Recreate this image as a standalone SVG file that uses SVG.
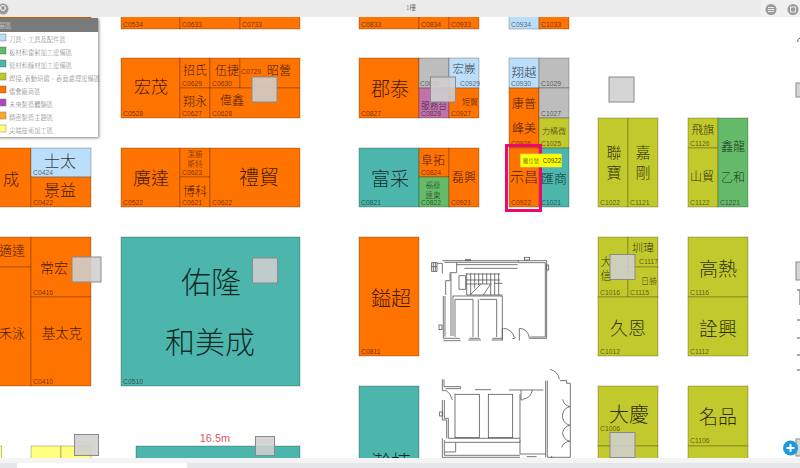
<svg xmlns="http://www.w3.org/2000/svg" width="800" height="468" viewBox="0 0 800 468">
<defs>
<filter id="sh" x="-10%" y="-10%" width="120%" height="120%"><feDropShadow dx="1" dy="1" stdDeviation="1.5" flood-color="#000" flood-opacity=".5"/></filter>
</defs>
<style>
text{font-family:"Noto Sans CJK TC","Liberation Sans",sans-serif;font-weight:300;fill:#000;fill-opacity:.78;text-anchor:middle;dominant-baseline:central}
text.c{font-family:"Liberation Sans",sans-serif;font-weight:400;font-size:6.8px;text-anchor:start;dominant-baseline:auto;fill-opacity:.58}
rect.o,rect.t,rect.v,rect.b,rect.g,rect.y,rect.a,rect.p{stroke:#000;stroke-opacity:.3;stroke-width:.8}
.o{fill:#ff7300}.t{fill:#4db6ac}.v{fill:#c2c92c}.b{fill:#bbdefb}.g{fill:#66bb6a}.y{fill:#ffff80}.a{fill:#bdbdbd}.p{fill:#c272ab}
rect.s{fill:#cfcfcf;fill-opacity:.88;stroke:#8a8a8a;stroke-width:1}
.plan{fill:none;stroke:#555;stroke-width:2.4}
.leg{font-size:6.3px;text-anchor:start;fill-opacity:.6}
</style>
<rect width="800" height="468" fill="#fff"/>
<g id="top-row">
<rect class="o" x="0" y="12" width="91" height="6"/>
<g id="C0534"><rect class="o" x="121" y="10" width="59" height="19"/><text class="c" x="123" y="26.5">C0534</text></g>
<g id="C0633"><rect class="o" x="180" y="10" width="60" height="19"/><text class="c" x="182" y="26.5">C0633</text></g>
<g id="C0733"><rect class="o" x="240" y="10" width="60" height="19"/><text class="c" x="242" y="26.5">C0733</text></g>
<g id="C0833"><rect class="o" x="359" y="10" width="60" height="19"/><text class="c" x="361" y="26.5">C0833</text></g>
<g id="C0834"><rect class="o" x="419" y="10" width="30" height="19"/><text class="c" x="421" y="26.5">C0834</text></g>
<g id="C0933"><rect class="o" x="449" y="10" width="30" height="19"/><text class="c" x="451" y="26.5">C0933</text></g>
<g id="C0934"><rect class="b" x="509" y="10" width="30" height="19"/><text class="c" x="511" y="26.5">C0934</text></g>
<g id="C1033"><rect class="o" x="539" y="10" width="30" height="19"/><text class="c" x="541" y="26.5">C1033</text></g>
</g>
<g id="C0528"><rect class="o" x="121" y="58" width="59" height="60"/><text x="151" y="85" font-size="17">宏茂</text><text class="c" x="123" y="115.5">C0528</text></g>
<g id="C0629"><rect class="o" x="180" y="58" width="30" height="30"/><text x="195" y="69" font-size="12">招氏</text><text class="c" x="182" y="85.5">C0629</text></g>
<g id="C0630"><rect class="o" x="210" y="58" width="30" height="30"/><text x="227" y="69.500" font-size="12">伍捷</text><text class="c" x="212" y="85.5">C0630</text></g>
<g id="C0729"><rect class="o" x="240" y="58" width="60" height="30"/><text x="279" y="69" font-size="12">昭營</text><text class="c" x="241" y="74">C0729</text></g>
<g id="C0627"><rect class="o" x="180" y="88" width="30" height="30"/><text x="195" y="100" font-size="12">翔永</text><text class="c" x="182" y="115.5">C0627</text></g>
<g id="C0628"><rect class="o" x="210" y="88" width="90" height="30"/><text x="232" y="99" font-size="12">偉鑫</text><text class="c" x="212" y="115.5">C0628</text></g>
<g id="C0522"><rect class="o" x="121" y="148" width="59" height="59"/><text x="151" y="177" font-size="18">廣達</text><text class="c" x="123" y="204.500">C0522</text></g>
<g id="C0623"><rect class="o" x="180" y="148" width="30" height="29"/><text x="195" y="153" font-size="7.500">潔勝</text><text x="195" y="163" font-size="7.500">斯特</text><text class="c" x="182" y="175">C0623</text></g>
<g id="C0621"><rect class="o" x="180" y="177" width="30" height="30"/><text x="195" y="190" font-size="12">博科</text><text class="c" x="182" y="204.500">C0621</text></g>
<g id="C0622"><rect class="o" x="210" y="148" width="90" height="59"/><text x="259" y="176" font-size="20">禮貿</text><text class="c" x="212" y="204.500">C0622</text></g>
<g id="cheng"><rect class="o" x="-2" y="148" width="33" height="59"/><text x="11" y="178" font-size="16">成</text></g>
<g id="C0424"><rect class="b" x="31" y="148" width="60" height="29"/><text x="60" y="160" font-size="16">士太</text><text class="c" x="33" y="175">C0424</text></g>
<g id="C0422"><rect class="o" x="31" y="177" width="60" height="30"/><text x="60" y="189" font-size="16">景益</text><text class="c" x="33" y="204.500">C0422</text></g>
<g id="C0827"><rect class="o" x="359" y="58" width="60" height="60"/><text x="390" y="87" font-size="19">郡泰</text><text class="c" x="361" y="115.5">C0827</text></g>
<g id="C0830"><rect class="a" x="419" y="58" width="30" height="30"/><text class="c" x="420" y="86">C0830</text></g>
<g id="C0929"><rect class="b" x="449" y="58" width="30" height="30"/><text x="464" y="68" font-size="11.500">宏嶡</text><text class="c" x="460" y="85.5">C0929</text></g>
<g id="C0828"><rect class="p" x="419" y="88" width="30" height="30"/><text x="434" y="105" font-size="8.700">服務台</text><text class="c" x="421" y="115.5">C0828</text></g>
<g id="C0927"><rect class="o" x="449" y="88" width="30" height="30"/><text x="470" y="101" font-size="8">短翼</text><text class="c" x="451" y="115.5">C0927</text></g>
<g id="C0821"><rect class="t" x="359" y="148" width="60" height="59"/><text x="390" y="177" font-size="19">富采</text><text class="c" x="361" y="204.500">C0821</text></g>
<g id="C0824"><rect class="o" x="419" y="148" width="30" height="29"/><text x="433" y="159" font-size="12">阜拓</text><text class="c" x="421" y="175">C0824</text></g>
<g id="C0822"><rect class="g" x="419" y="177" width="30" height="30"/><text x="433" y="184" font-size="7.500">福祿</text><text x="433" y="194" font-size="7.500">達東</text><text class="c" x="421" y="204.500">C0822</text></g>
<g id="C0921"><rect class="o" x="449" y="148" width="30" height="59"/><text x="464" y="176" font-size="12">磊興</text><text class="c" x="451" y="204.500">C0921</text></g>
<g id="C0930"><rect class="b" x="509" y="58" width="30" height="30"/><text x="524" y="71" font-size="12.500">翔越</text><text class="c" x="511" y="85.5">C0930</text></g>
<g id="C1029"><rect class="a" x="539" y="58" width="30" height="30"/><text class="c" x="541" y="85.5">C1029</text></g>
<g id="C0926"><rect class="o" x="509" y="88" width="30" height="60"/><text x="524" y="102" font-size="12">康普</text><text x="524" y="127" font-size="12">峰美</text><text class="c" x="511" y="145.500">C0926</text></g>
<g id="C1027"><rect class="a" x="539" y="88" width="30" height="30"/><text class="c" x="541" y="115.5">C1027</text></g>
<g id="C1025"><rect class="v" x="539" y="118" width="30" height="30"/><text x="554" y="130" font-size="8">力構微</text><text class="c" x="541" y="145.500">C1025</text></g>
<g id="C1021"><rect class="t" x="539" y="148" width="30" height="59"/><text x="554" y="177" font-size="13">匯商</text><text class="c" x="541" y="204.500">C1021</text></g>
<g id="C0922"><rect class="o" x="509" y="148" width="30" height="59"/><text x="524" y="176" font-size="14">示昌</text><text class="c" x="511" y="204.500">C0922</text></g>
<g id="C1022"><rect class="v" x="598" y="118" width="30" height="89"/><text x="614" y="151" font-size="15">聯</text><text x="614" y="171" font-size="15">寶</text><text class="c" x="600" y="204.500">C1022</text></g>
<g id="C1121"><rect class="v" x="628" y="118" width="30" height="89"/><text x="643" y="151" font-size="15">嘉</text><text x="643" y="171" font-size="15">剛</text><text class="c" x="630" y="204.500">C1121</text></g>
<g id="C1126"><rect class="v" x="688" y="118" width="30" height="30"/><text x="703" y="129" font-size="11.500">飛旗</text><text class="c" x="690" y="145.500">C1126</text></g>
<g id="C1122"><rect class="v" x="688" y="148" width="30" height="59"/><text x="702" y="175" font-size="12">山貿</text><text class="c" x="690" y="204.500">C1122</text></g>
<g id="C1221"><rect class="g" x="718" y="118" width="30" height="89"/><text x="733" y="145" font-size="12">鑫龍</text><text x="733" y="176" font-size="12">乙和</text><text class="c" x="720" y="204.500">C1221</text></g>
<g id="shida"><rect class="o" x="-2" y="237" width="33" height="30"/><text x="12" y="249" font-size="13">適達</text></g>
<g id="leyong"><rect class="o" x="-2" y="267" width="33" height="119"/><text x="12" y="332" font-size="13">禾泳</text></g>
<g id="C0416"><rect class="o" x="31" y="237" width="60" height="60"/><text x="54" y="267" font-size="14">常宏</text><text class="c" x="33" y="294.500">C0416</text></g>
<g id="C0410"><rect class="o" x="31" y="297" width="60" height="89"/><text x="62" y="332" font-size="13.500">基太克</text><text class="c" x="33" y="383.500">C0410</text></g>
<g id="C0510"><rect class="t" x="121" y="237" width="179" height="149"/><text x="211" y="280" font-size="30">佑隆</text><text x="210" y="340" font-size="30">和美成</text><text class="c" x="123" y="383.500">C0510</text></g>
<g id="C0811"><rect class="o" x="359" y="237" width="60" height="119"/><text x="391" y="297" font-size="20">鎰超</text><text class="c" x="361" y="353.500">C0811</text></g>
<g id="hanlian"><rect class="t" x="359" y="386" width="60" height="85"/><text x="391" y="461" font-size="20">瀚棟</text></g>
<g id="C1016"><rect class="v" x="598" y="237" width="30" height="60"/><text x="606" y="261" font-size="11">大</text><text x="606" y="275" font-size="11">信</text><text class="c" x="600" y="294.500">C1016</text></g>
<g id="C1117"><rect class="v" x="628" y="237" width="30" height="30"/><text x="643" y="247" font-size="11">圳瑋</text><text class="c" x="639" y="263.500">C1117</text></g>
<g id="C1115"><rect class="v" x="628" y="267" width="30" height="30"/><text x="649" y="280" font-size="8">日勝</text><text class="c" x="630" y="294.500">C1115</text></g>
<g id="C1012"><rect class="v" x="598" y="297" width="60" height="59"/><text x="628" y="327" font-size="18">久恩</text><text class="c" x="600" y="353.500">C1012</text></g>
<g id="C1116"><rect class="v" x="688" y="237" width="60" height="60"/><text x="718" y="267" font-size="19">高熱</text><text class="c" x="690" y="294.500">C1116</text></g>
<g id="C1112"><rect class="v" x="688" y="297" width="60" height="59"/><text x="718" y="327" font-size="19">詮興</text><text class="c" x="690" y="353.500">C1112</text></g>
<g id="C1006"><rect class="v" x="598" y="386" width="60" height="60"/><text x="629" y="413" font-size="20">大慶</text><text class="c" x="600" y="431">C1006</text></g>
<g id="C1006b"><rect class="v" x="598" y="446" width="60" height="25"/></g>
<g id="C1106"><rect class="v" x="688" y="386" width="60" height="60"/><text x="718" y="415" font-size="19">名品</text><text class="c" x="690" y="443">C1106</text></g>
<g id="C1106b"><rect class="v" x="688" y="446" width="60" height="25"/></g>
<g id="bottom-row">
<rect class="y" x="-2" y="446" width="3.500" height="25"/>
<rect class="y" x="31" y="446" width="30" height="25"/><rect class="y" x="61" y="446" width="30" height="25"/>
<text x="47" y="464" font-size="14">壽</text>
<rect class="t" x="136" y="446" width="164" height="25"/>
<text x="215" y="438" font-size="11" style="fill:#d9404f;fill-opacity:.9;font-weight:400;font-family:'Liberation Sans',sans-serif">16.5m</text>
</g>
<g id="pillars">
<rect class="s" x="252" y="77" width="25" height="25"/>
<rect class="s" x="430.500" y="77" width="25" height="25"/>
<rect class="s" x="609" y="77" width="25" height="25"/>
<rect class="s" x="72" y="257" width="29" height="25"/>
<rect class="s" x="252.500" y="258" width="25" height="25"/>
<rect class="s" x="610" y="254.500" width="25" height="25"/>
<rect class="s" x="610" y="432.500" width="25" height="25"/>
<rect class="s" x="74.500" y="434.500" width="24" height="21"/>
<rect class="s" x="255.500" y="436.500" width="19" height="19"/>
<rect class="s" x="796" y="83" width="8" height="14"/>
<rect class="s" x="796" y="262" width="8" height="18"/>
<rect class="s" x="796" y="439" width="8" height="17"/>
</g>
<g id="floor-plan" class="plan" transform="translate(425 250) scale(.3333)">
<path d="M55 138V265H105M133 265H165M202 265H232V138H83M60 138V260M78 70V258M84 138V258M55 272H107M130 270H168M200 270H232M232 235V272"/>
<path d="M36 40H52V70M52 32H365V265H313M58 37H278M95 37V68H75V92H62V135M280 32V38M278 44H95M278 55H118M280 38H361V261H316"/>
<rect x="122" y="28" width="14" height="4"/><rect x="298" y="22" width="16" height="8"/><rect x="365" y="45" width="6" height="15"/><rect x="42" y="225" width="9" height="14"/>
<rect x="20" y="38" width="16" height="26"/><path d="M25 38V64M31 38V64M20 50H36"/>
<path d="M102 77H122V118H102ZM125 70V135M137 70V135M149 70V115M161 70V105M173 70V102M185 70V102M197 70V135M209 70V135M221 70V135M225 72H122M225 90H122M200 102H122M232 100H207M125 135H232M135 135L168 102M175 135L195 105"/>
<path d="M90 148V261M90 148H144V261M160 148V261M164 148H215V261"/>
<path d="M235 235A35 35 0 0 1 268 262M262 265Q268 268 272 262M283 272V235A30 30 0 0 1 313 265"/>
<path d="M52 388V422H62M57 388V410H107V416H62M62 420Q78 430 82 450M52 450V510H65V565M58 450V505H70V565H285M52 565V622H285M58 570V616H285M60 577H92V606M58 606H92M92 577H285V572"/>
<rect x="44" y="486" width="8" height="12"/>
<rect x="90" y="433" width="73" height="130"/><rect x="190" y="433" width="73" height="130"/>
<path d="M150 419H198M252 420H355M288 420V450H292M292 448Q318 445 322 420M285 433V612H362M362 392V622M367 392V622H436V400H425V392H405M375 358Q400 365 403 388M305 620H335M380 618V626M435 470A28 28 0 0 1 413 448M435 470A28 28 0 0 0 413 492A28 28 0 0 0 435 526A28 28 0 0 0 413 548A28 28 0 0 0 435 574A28 28 0 0 0 410 592"/>
</g>
<g id="right-edge" class="plan"><path d="M798 42A3 3 0 0 1 800 38M797 290H800V305M797 320H800M797 338H800M797 355H800M797 370H800" stroke-width="1"/></g>
<g id="legend">
<rect x="-3" y="18" width="101" height="119" fill="#fff" filter="url(#sh)"/>
<rect x="-3" y="18" width="101" height="14" fill="#7a7a7a"/>
<text x="5" y="25.500" font-size="6.300" style="fill:#fff;fill-opacity:.85">展區</text>
<g stroke="#888" stroke-width=".6">
<rect class="b" x="-1" y="34" width="7" height="7"/><rect class="g" x="-1" y="47" width="7" height="7"/><rect class="t" x="-1" y="60" width="7" height="7"/><rect class="v" x="-1" y="73" width="7" height="7"/><rect class="o" x="-1" y="86" width="7" height="7"/><rect x="-1" y="99" width="7" height="7" fill="#ab47bc"/><rect x="-1" y="112" width="7" height="7" fill="#ffa726"/><rect class="y" x="-1" y="125" width="7" height="7"/>
</g>
<text class="leg" x="9" y="39">刀具、工具及配件區</text>
<text class="leg" x="9" y="52">板材和雷射加工設備區</text>
<text class="leg" x="9" y="65">管材和線材加工設備區</text>
<text class="leg" x="9" y="78">焊接, 表動研磨、表面處理設備區</text>
<text class="leg" x="9" y="91">僑會廠商區</text>
<text class="leg" x="9" y="104">未來製造體験區</text>
<text class="leg" x="9" y="117">精密製造主題區</text>
<text class="leg" x="9" y="130">尖端技術加工區</text>
</g>
<g id="highlight">
<rect x="506.500" y="145.500" width="34" height="65" fill="none" stroke="#ea0a6e" stroke-width="3"/>
<rect x="520.500" y="154" width="41" height="13" fill="#ffff00" stroke="#e8e070" stroke-width=".6"/>
<text x="531" y="160.500" font-size="5.500">攤位號</text>
<text x="552" y="160.500" font-size="6.300" style="font-family:'Liberation Sans',sans-serif;font-weight:400;fill-opacity:.8">C0922</text>
</g>
<g id="toolbar">
<rect x="0" y="0" width="800" height="17" fill="#ebebeb"/>
<rect x="761" y="0" width="39" height="17" fill="#f0f0f0"/>
<text x="411" y="7" font-size="6.500">1樓</text>
<circle cx="3" cy="9" r="5.500" fill="#9a9a9a"/><circle cx="3" cy="8" r="2.500" fill="none" stroke="#fff"/>
<circle cx="771" cy="9.500" r="5.500" fill="#9a9a9a"/><path d="M768 7.500H774M768 9.500H774M768 11.500H774" stroke="#fff" stroke-width=".8"/>
<circle cx="793" cy="9.500" r="5.500" fill="#9a9a9a"/><rect x="790.500" y="7" width="5" height="5" fill="none" stroke="#fff" stroke-width=".8"/>
</g>
<g id="bottom-bar">
<rect x="0" y="458" width="800" height="10" fill="#f4f4f4"/>
<rect x="0" y="463" width="800" height="5" fill="#e4e6e8"/>
<rect x="17" y="463" width="170" height="5" fill="#fff"/>
</g>
<g id="zoom-button"><circle cx="790.500" cy="448" r="7.500" fill="#1b9ae0"/><path d="M786.500 448H794.500M790.500 444V452" stroke="#fff" stroke-width="2"/></g>
</svg>
